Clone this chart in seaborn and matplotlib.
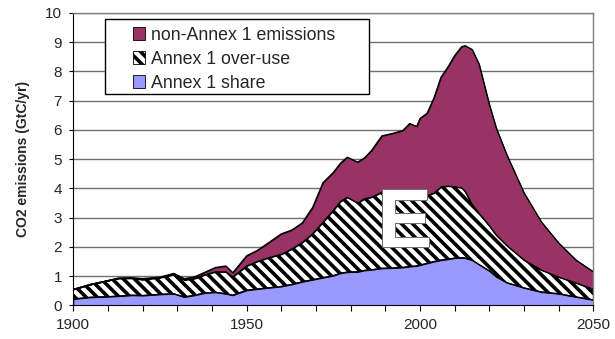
import matplotlib
matplotlib.use("Agg")
import matplotlib.pyplot as plt
import matplotlib.patheffects as pe
from matplotlib.patches import Patch, Rectangle
from matplotlib.ticker import MultipleLocator
import numpy as np
import pandas as pd
import seaborn as sns

# values (GtC/yr), cumulative tops of each band
years = [1900, 1905, 1910, 1913, 1917, 1920, 1925, 1929, 1932, 1935, 1938,
         1941, 1944, 1946, 1950, 1953, 1956, 1960, 1963, 1966, 1969, 1972,
         1975, 1977, 1979, 1982, 1984, 1986, 1989, 1992, 1995, 1997, 1999,
         2000, 2002, 2004, 2006, 2008, 2010, 2012, 2013, 2015, 2017, 2020,
         2022, 2025, 2030, 2035, 2040, 2045, 2050]

annex1_share = [0.22, 0.28, 0.30, 0.32, 0.35, 0.34, 0.38, 0.40, 0.29, 0.35, 0.43,
                0.45, 0.40, 0.35, 0.52, 0.56, 0.60, 0.65, 0.72, 0.81, 0.88, 0.95,
                1.02, 1.10, 1.14, 1.15, 1.20, 1.22, 1.27, 1.28, 1.30, 1.33, 1.35,
                1.38, 1.44, 1.50, 1.55, 1.58, 1.62, 1.63, 1.62, 1.55, 1.40, 1.18,
                0.98, 0.78, 0.60, 0.46, 0.40, 0.29, 0.19]

annex1_total = [0.55, 0.72, 0.85, 0.92, 0.93, 0.88, 0.95, 1.05, 0.87, 0.92, 1.05,
                1.15, 1.15, 0.98, 1.35, 1.50, 1.62, 1.75, 1.93, 2.15, 2.45, 2.85,
                3.25, 3.55, 3.70, 3.50, 3.65, 3.70, 3.87, 3.72, 3.70, 3.72, 3.72,
                3.74, 3.76, 3.84, 4.05, 4.08, 4.06, 4.02, 3.90, 3.45, 3.15, 2.72,
                2.40, 2.05, 1.55, 1.21, 0.97, 0.77, 0.55]

world_total = [0.55, 0.72, 0.85, 0.94, 0.95, 0.92, 0.97, 1.10, 0.92, 0.98, 1.14,
               1.30, 1.35, 1.12, 1.70, 1.88, 2.12, 2.45, 2.58, 2.82, 3.35, 4.20,
               4.55, 4.86, 5.07, 4.90, 5.05, 5.30, 5.80, 5.88, 5.98, 6.22, 6.12,
               6.40, 6.57, 7.10, 7.80, 8.15, 8.55, 8.85, 8.88, 8.75, 8.25, 6.85,
               6.05, 5.15, 3.84, 2.85, 2.13, 1.55, 1.15]

labels = ["Annex 1 share", "Annex 1 over-use", "non-Annex 1 emissions"]
colors = ["#9999FF", "white", "#993366"]

df = pd.DataFrame({"year": years, "share": annex1_share,
                   "annex1": annex1_total, "total": world_total})
share = df["share"].to_numpy()
overuse = df["annex1"].to_numpy() - share
non_annex = df["total"].to_numpy() - df["annex1"].to_numpy()

sns.set_theme(style="ticks")
plt.rcParams["font.family"] = ["Liberation Sans", "DejaVu Sans"]
plt.rcParams["hatch.linewidth"] = 2.6
plt.rcParams["hatch.color"] = "black"

fig = plt.figure(figsize=(6.15, 3.39), dpi=100)
ax = fig.add_axes([0.119, 0.099, 0.846, 0.863])

polys = ax.stackplot(df["year"], share, overuse, non_annex, colors=colors,
                     edgecolor="black", linewidth=0.8, zorder=2)
polys[1].set_hatch("\\\\\\")

# thin outlines along the top of each band
for col in ["share", "annex1", "total"]:
    sns.lineplot(data=df, x="year", y=col, ax=ax, color="black",
                 linewidth=0.8, zorder=3)

ax.set_xlim(1900, 2050)
ax.set_ylim(0, 10)
ax.set_xticks([1900, 1950, 2000, 2050])
ax.xaxis.set_minor_locator(MultipleLocator(10))
ax.yaxis.set_major_locator(MultipleLocator(1))
ax.tick_params(axis="both", which="both", direction="out", length=4,
               width=0.8, color="black", labelsize=11, pad=5)
ax.tick_params(axis="y", length=3)
ax.grid(axis="y", color="#707070", linewidth=1.0, zorder=0)
ax.set_axisbelow(True)
ax.set_xlabel("")
ax.set_ylabel("CO2 emissions (GtC/yr)", fontsize=10, fontweight="bold",
              labelpad=11)

for side in ["top", "right"]:
    ax.spines[side].set_color("#808080")
    ax.spines[side].set_linewidth(1.0)
for side in ["left", "bottom"]:
    ax.spines[side].set_color("black")
    ax.spines[side].set_linewidth(0.8)

ax.text(1995.6, 2.72, "E", fontsize=59, fontweight="bold", color="white",
        ha="center", va="center", zorder=5,
        path_effects=[pe.withStroke(linewidth=1.5, foreground="#707070")])

# legend with a wide white frame
ax.add_patch(Rectangle((0.061, 0.723), 0.507, 0.256, transform=ax.transAxes,
                       facecolor="white", edgecolor="black", linewidth=1.0,
                       zorder=6))
handles = [Patch(facecolor=colors[2], edgecolor="black", linewidth=0.6),
           Patch(facecolor="white", edgecolor="black", linewidth=0.6,
                 hatch="\\\\\\"),
           Patch(facecolor=colors[0], edgecolor="black", linewidth=0.6)]
leg = ax.legend(handles, labels[::-1], loc="upper left",
                bbox_to_anchor=(0.115, 0.953), frameon=False, fontsize=12.8,
                handlelength=0.7, handleheight=0.7, handletextpad=0.3,
                labelspacing=0.4, borderpad=0, borderaxespad=0)
leg.set_zorder(7)

fig.savefig("out.png", dpi=100)
